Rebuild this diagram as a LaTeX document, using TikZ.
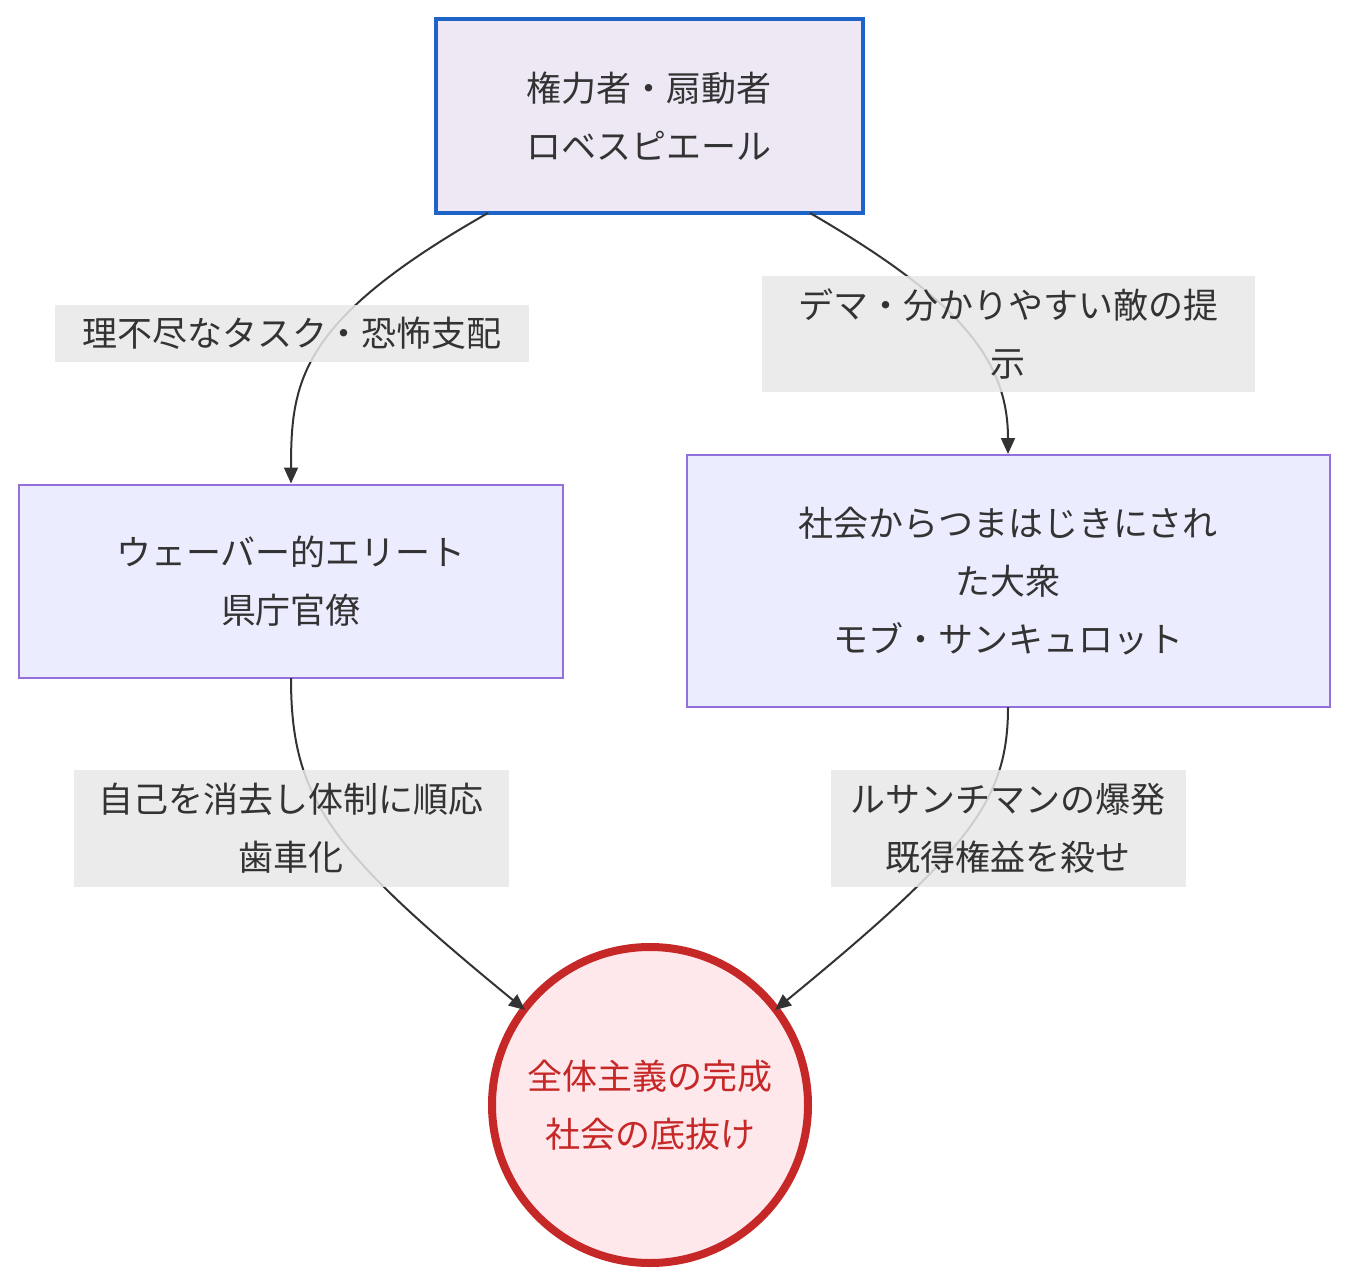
\documentclass[tikz,border=0pt]{standalone}
\usepackage{fontspec}
\setmainfont{Noto Sans CJK JP}
\usetikzlibrary{arrows.meta}
\definecolor{txt}{HTML}{333333}
\definecolor{lav}{HTML}{ECECFF}
\definecolor{lavb}{HTML}{9370DB}
\definecolor{topf}{HTML}{EEE8F5}
\definecolor{topb}{HTML}{1E64C8}
\definecolor{redb}{HTML}{C62828}
\definecolor{redf}{HTML}{FFE8EC}
\definecolor{lbl}{HTML}{E8E8E8}
\begin{document}
\begin{tikzpicture}[x=1pt,y=-1pt,
  every node/.style={font=\fontsize{35}{58}\selectfont, text=txt, align=center, inner sep=0},
  box/.style={draw=lavb, fill=lav, line width=2pt},
  lab/.style={fill=lbl, fill opacity=0.85, text opacity=1},
  edge/.style={draw=txt, line width=2pt, -{Triangle[length=16pt,width=14pt]}}]
\useasboundingbox (0,0) rectangle (1350,1284);
\node[draw=topb, fill=topf, line width=4pt, minimum width=427, minimum height=194] (top) at (649,116) {権力者・扇動者\\ロベスピエール};
\node[box, minimum width=544, minimum height=193] (left) at (291,581) {ウェーバー的エリート\\県庁官僚};
\node[box, minimum width=643, minimum height=252] (right) at (1008,581) {社会からつまはじきにされ\\た大衆\\モブ・サンキュロット};
\node[circle, draw=redb, fill=redf, line width=8pt, minimum size=316, text=redb] (end) at (650,1105) {全体主義の完成\\社会の底抜け};
\coordinate (a1) at (488,213); \coordinate (a2) at (810,213);
\coordinate (b1) at (291,678); \coordinate (b2) at (1008,707);
\draw[edge] (a1) .. controls (300,320) and (291,380) .. (left.north);
\draw[edge] (a2) .. controls (960,300) and (1008,360) .. (right.north);
\draw[edge] (b1) .. controls (291,800) and (330,850) .. (525,1010);
\draw[edge] (b2) .. controls (1008,800) and (970,850) .. (775,1010);
\node[lab, minimum width=474, minimum height=57] (l1) at (292,333) {理不尽なタスク・恐怖支配};
\node[lab, minimum width=493, minimum height=116] (l2) at (1008,334) {デマ・分かりやすい敵の提\\示};
\node[lab, minimum width=435, minimum height=117] (l3) at (291,828) {自己を消去し体制に順応\\歯車化};
\node[lab, minimum width=355, minimum height=117] (l4) at (1008,828) {ルサンチマンの爆発\\既得権益を殺せ};
\end{tikzpicture}
\end{document}
